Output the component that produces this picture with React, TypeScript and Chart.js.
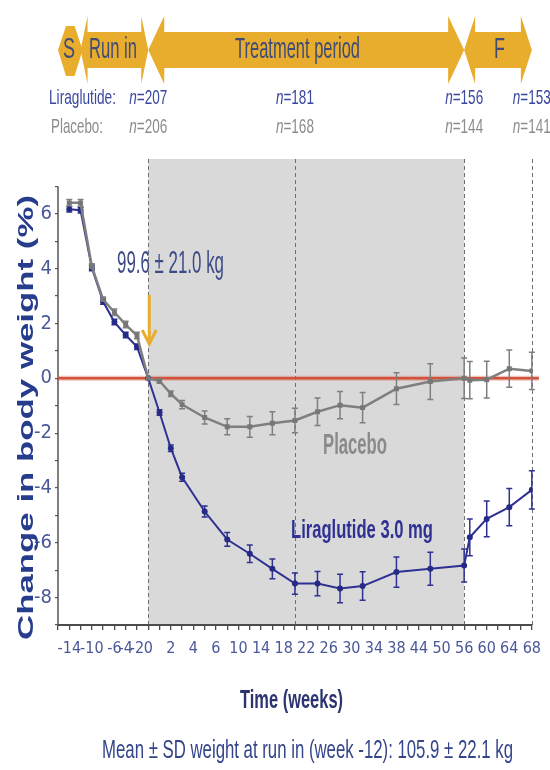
import React, { useEffect, useRef } from 'react';
import { Chart, registerables } from 'chart.js';

Chart.register(...registerables);

// ---------------- data ----------------
const weeks = [-14, -12, -10, -8, -6, -4, -2, 0, 2, 4, 6, 10, 14, 18, 22, 26, 30, 34, 38, 44, 50, 56, 57, 60, 64, 68];
const placeboMean = [6.4, 6.4, 4.08, 2.87, 2.41, 1.96, 1.56, 0, -0.1, -0.56, -0.96, -1.43, -1.77, -1.77, -1.64, -1.54, -1.22, -0.98, -1.07, -0.38, -0.12, 0.0, -0.07, -0.05, 0.35, 0.27];
const placeboErr = [0.12, 0.12, 0.1, 0.1, 0.12, 0.12, 0.12, 0, 0.08, 0.1, 0.15, 0.24, 0.29, 0.38, 0.42, 0.45, 0.5, 0.5, 0.55, 0.58, 0.65, 0.74, 0.68, 0.67, 0.68, 0.68];
const liraMean = [6.17, 6.13, 4.02, 2.8, 2.05, 1.58, 1.15, 0, -1.25, -2.55, -3.61, -4.86, -5.88, -6.4, -6.95, -7.49, -7.49, -7.67, -7.58, -7.07, -6.95, -6.83, -5.8, -5.13, -4.7, -4.07];
const liraErr = [0.1, 0.1, 0.1, 0.1, 0.1, 0.1, 0.1, 0, 0.1, 0.12, 0.15, 0.2, 0.25, 0.32, 0.36, 0.39, 0.44, 0.52, 0.52, 0.55, 0.6, 0.6, 0.67, 0.65, 0.68, 0.7];

const xTickPositions = [-14, -10, -6, -4, -2, 0, 4, 8, 12, 16, 20, 24, 28, 32, 36, 40, 44, 48, 52, 56, 60, 64, 68];
const xTickLabels = ['-14', '-10', '-6', '-4', '-2', '0', '2', '4', '6', '10', '14', '18', '22', '26', '30', '34', '38', '44', '50', '56', '60', '64', '68'];
const xMin = -16;
const xMax = 68;
const xMinorStep = 2;
const yMin = -9;
const yMax = 8;
const yAxisTop = 7;
const yLabelValues = [-8, -6, -4, -2, 0, 2, 4, 6];

const phaseLabels = ['S', 'Run in', 'Treatment period', 'F'];
const phaseStarts = [-16, -12, 0, 56];
const phaseEnds = [-12, 0, 56, 68];

const nWeeks = [0, 26, 56, 68];
const nLiraglutide = [207, 181, 156, 153];
const nPlacebo = [206, 168, 144, 141];

const shadedStart = 0;
const shadedEnd = 56;
const dashedWeeks = [0, 26, 56, 68];

const baselineWeightLabel = '99.6 ± 21.0 kg';
const runInLabel = 'Mean ± SD weight at run in (week -12): 105.9 ± 22.1 kg';

// ---------------- styles ----------------
const ORANGE = '#e8ad2c';
const BLUE = '#2e3192';
const GREY = '#7f7f7f';
const SANS = '"Liberation Sans", Arial, sans-serif';
const NARROW = '"Liberation Sans Narrow", "DejaVu Sans Condensed", "Liberation Sans", sans-serif';

type Part = { text: string; italic?: boolean };

function fitText(
  ctx: CanvasRenderingContext2D,
  parts: Part[],
  left: number,
  right: number,
  capTop: number,
  baseline: number,
  color: string,
  weight = 'normal'
) {
  const size = (baseline - capTop) / 0.716;
  const fontFor = (p: Part) => `${p.italic ? 'italic ' : ''}${weight} ${size}px ${SANS}`;
  let total = 0;
  const widths = parts.map((p) => {
    ctx.font = fontFor(p);
    const w = ctx.measureText(p.text).width;
    total += w;
    return w;
  });
  const sx = (right - left) / total;
  ctx.save();
  ctx.translate(left, baseline);
  ctx.scale(sx, 1);
  ctx.fillStyle = color;
  ctx.textAlign = 'left';
  ctx.textBaseline = 'alphabetic';
  let x = 0;
  parts.forEach((p, i) => {
    ctx.font = fontFor(p);
    ctx.fillText(p.text, x, 0);
    x += widths[i];
  });
  ctx.restore();
}

const backgroundPlugin = {
  id: 'bgPlugin',
  beforeDraw(chart: any) {
    const { ctx, chartArea, scales } = chart;
    const xs = scales.x;
    ctx.save();
    ctx.fillStyle = '#d9d9d9';
    const x0 = xs.getPixelForValue(shadedStart);
    const x1 = xs.getPixelForValue(shadedEnd);
    ctx.fillRect(x0, chartArea.top, x1 - x0, chartArea.bottom - chartArea.top);
    ctx.strokeStyle = '#6e6e6e';
    ctx.lineWidth = 1;
    ctx.setLineDash([4, 3]);
    dashedWeeks.forEach((w) => {
      const px = Math.round(xs.getPixelForValue(w)) + 0.5;
      ctx.beginPath();
      ctx.moveTo(px, chartArea.top);
      ctx.lineTo(px, chartArea.bottom);
      ctx.stroke();
    });
    ctx.restore();
  },
  beforeDatasetsDraw(chart: any) {
    const { ctx, chartArea, scales } = chart;
    const xs = scales.x;
    const ys = scales.y;
    ctx.save();
    // y axis line
    ctx.strokeStyle = '#555555';
    ctx.lineWidth = 1.5;
    ctx.beginPath();
    ctx.moveTo(chartArea.left, ys.getPixelForValue(yAxisTop));
    ctx.lineTo(chartArea.left, chartArea.bottom);
    ctx.stroke();
    // zero reference line
    const y0 = ys.getPixelForValue(0);
    ctx.strokeStyle = 'rgba(214, 84, 62, 0.35)';
    ctx.lineWidth = 5;
    ctx.beginPath();
    ctx.moveTo(chartArea.left, y0);
    ctx.lineTo(chartArea.right + 7, y0);
    ctx.stroke();
    ctx.strokeStyle = '#d4523b';
    ctx.lineWidth = 2.5;
    ctx.beginPath();
    ctx.moveTo(chartArea.left, y0);
    ctx.lineTo(chartArea.right + 7, y0);
    ctx.stroke();
    // error bars
    const bars = (means: number[], errs: number[], color: string) => {
      ctx.strokeStyle = color;
      ctx.lineWidth = 1.5;
      weeks.forEach((w, i) => {
        if (!errs[i]) return;
        const px = xs.getPixelForValue(w);
        const ya = ys.getPixelForValue(means[i] + errs[i]);
        const yb = ys.getPixelForValue(means[i] - errs[i]);
        ctx.beginPath();
        ctx.moveTo(px, ya);
        ctx.lineTo(px, yb);
        ctx.moveTo(px - 3, ya);
        ctx.lineTo(px + 3, ya);
        ctx.moveTo(px - 3, yb);
        ctx.lineTo(px + 3, yb);
        ctx.stroke();
      });
    };
    bars(liraMean, liraErr, BLUE);
    bars(placeboMean, placeboErr, GREY);
    ctx.restore();
  },
  afterDraw(chart: any) {
    const { ctx, scales } = chart;
    const xs = scales.x;
    ctx.save();
    // ---- phase banner ----
    const top = 16, bottom = 84, bTop = 32, bBot = 68, mid = 50;
    const heads = [0, 7, 16, 11];
    phaseLabels.forEach((label, i) => {
      const a = xs.getPixelForValue(phaseStarts[i]);
      const b = xs.getPixelForValue(phaseEnds[i]);
      ctx.fillStyle = ORANGE;
      ctx.beginPath();
      if (i === 0) {
        ctx.moveTo(a, mid);
        ctx.lineTo(a + 8, 26);
        ctx.lineTo(b - 6, 26);
        ctx.lineTo(b + 2, mid);
        ctx.lineTo(b - 6, 76);
        ctx.lineTo(a + 8, 76);
      } else {
        const h = heads[i];
        ctx.moveTo(a, mid);
        ctx.lineTo(a + h, top);
        ctx.lineTo(a + h, bTop);
        ctx.lineTo(b - h, bTop);
        ctx.lineTo(b - h, top);
        ctx.lineTo(b, mid);
        ctx.lineTo(b - h, bottom);
        ctx.lineTo(b - h, bBot);
        ctx.lineTo(a + h, bBot);
        ctx.lineTo(a + h, bottom);
      }
      ctx.closePath();
      ctx.fill();
    });
    const bannerText = '#404b78';
    fitText(ctx, [{ text: 'S' }], 63, 75, 37, 58, bannerText);
    fitText(ctx, [{ text: 'Run in' }], 89, 137, 37, 58, bannerText);
    fitText(ctx, [{ text: 'Treatment period' }], 235, 360, 37, 58, bannerText);
    fitText(ctx, [{ text: 'F' }], 494, 505, 37, 58, bannerText);

    // ---- n rows ----
    const liraColor = '#3a47a0';
    const placColor = '#8c8c8c';
    fitText(ctx, [{ text: 'Liraglutide:' }], 49, 116, 90, 104, liraColor);
    fitText(ctx, [{ text: 'Placebo:' }], 51, 103, 119, 133, placColor);
    nWeeks.forEach((w, i) => {
      const c = xs.getPixelForValue(w);
      fitText(ctx, [{ text: 'n', italic: true }, { text: '=' + nLiraglutide[i] }], c - 19, c + 19, 90, 104, liraColor);
      fitText(ctx, [{ text: 'n', italic: true }, { text: '=' + nPlacebo[i] }], c - 19, c + 19, 119, 133, placColor);
    });

    // ---- annotations ----
    fitText(ctx, [{ text: baselineWeightLabel }], 117, 224, 251, 273, '#3d4a86');
    const ax = xs.getPixelForValue(0) + 1;
    ctx.strokeStyle = ORANGE;
    ctx.lineWidth = 3;
    ctx.beginPath();
    ctx.moveTo(ax, 295);
    ctx.lineTo(ax, 343);
    ctx.stroke();
    ctx.beginPath();
    ctx.moveTo(ax - 7, 330);
    ctx.lineTo(ax, 344);
    ctx.lineTo(ax + 7, 330);
    ctx.stroke();

    fitText(ctx, [{ text: 'Placebo' }], 323, 387, 433, 454, '#8a8a8a', 'bold');
    fitText(ctx, [{ text: 'Liraglutide 3.0 mg' }], 291, 433, 520, 538, BLUE, 'bold');

    // ---- axis titles ----
    fitText(ctx, [{ text: 'Time (weeks)' }], 240, 343, 690, 708, '#2c3470', 'bold');
    fitText(ctx, [{ text: runInLabel }], 102, 513, 740, 758, '#34458a');

    ctx.save();
    ctx.translate(33, 640);
    ctx.rotate(-Math.PI / 2);
    fitText(ctx, [{ text: 'Change in body weight (%)' }], 0, 445, -16, 0, '#263c8c', 'bold');
    ctx.restore();

    ctx.restore();
  },
};

export default function App() {
  const ref = useRef<HTMLCanvasElement | null>(null);
  useEffect(() => {
    if (!ref.current) return;
    const chart = new Chart(ref.current, {
      type: 'line',
      data: {
        datasets: [
          {
            label: 'Placebo',
            data: weeks.map((w, i) => ({ x: w, y: placeboMean[i] })),
            borderColor: GREY,
            backgroundColor: '#777777',
            borderWidth: 2.5,
            pointStyle: 'rect',
            pointRadius: 3.5,
            pointBorderWidth: 0,
            tension: 0,
          },
          {
            label: 'Liraglutide 3.0 mg',
            data: weeks.map((w, i) => ({ x: w, y: liraMean[i] })),
            borderColor: BLUE,
            backgroundColor: '#252a85',
            borderWidth: 2,
            pointStyle: 'circle',
            pointRadius: 3,
            pointBorderWidth: 0,
            tension: 0,
          },
        ],
      },
      options: {
        animation: false,
        responsive: false,
        maintainAspectRatio: false,
        layout: { padding: { top: 159, right: 17, left: 0, bottom: 0 } },
        plugins: { legend: { display: false }, tooltip: { enabled: false } },
        scales: {
          x: {
            type: 'linear',
            min: xMin,
            max: xMax,
            afterBuildTicks: (s: any) => {
              const t = [];
              for (let v = xMin; v <= xMax; v += xMinorStep) t.push({ value: v });
              s.ticks = t;
            },
            afterFit: (s: any) => {
              s.height = 145;
            },
            ticks: {
              autoSkip: false,
              maxRotation: 0,
              minRotation: 0,
              padding: 9,
              color: '#4a5799',
              font: { family: NARROW, size: 16 },
              callback: (v: any) => {
                const idx = xTickPositions.indexOf(Number(v));
                return idx >= 0 ? xTickLabels[idx] : '';
              },
            },
            grid: { drawOnChartArea: false, drawTicks: true, tickLength: 5, color: '#4d4d4d', lineWidth: 1.3 },
            border: { display: true, color: '#4d4d4d', width: 2 },
          },
          y: {
            type: 'linear',
            min: yMin,
            max: yMax,
            afterBuildTicks: (s: any) => {
              const t = [];
              for (let v = yMin; v <= yAxisTop; v += 1) t.push({ value: v });
              s.ticks = t;
            },
            afterFit: (s: any) => {
              s.width = 58;
            },
            ticks: {
              autoSkip: false,
              padding: 3,
              color: '#4a5799',
              font: { family: NARROW, size: 20 },
              callback: (v: any) => (yLabelValues.includes(Number(v)) ? String(v) : ''),
            },
            grid: { drawOnChartArea: false, drawTicks: true, tickLength: 3, color: '#555555', lineWidth: 1.2 },
            border: { display: false },
          },
        },
      },
      plugins: [backgroundPlugin],
    });
    return () => chart.destroy();
  }, []);
  return (
    <canvas
      ref={ref}
      width={550}
      height={770}
      style={{ position: 'absolute', left: 0, top: 0, width: 550, height: 770 }}
    />
  );
}
